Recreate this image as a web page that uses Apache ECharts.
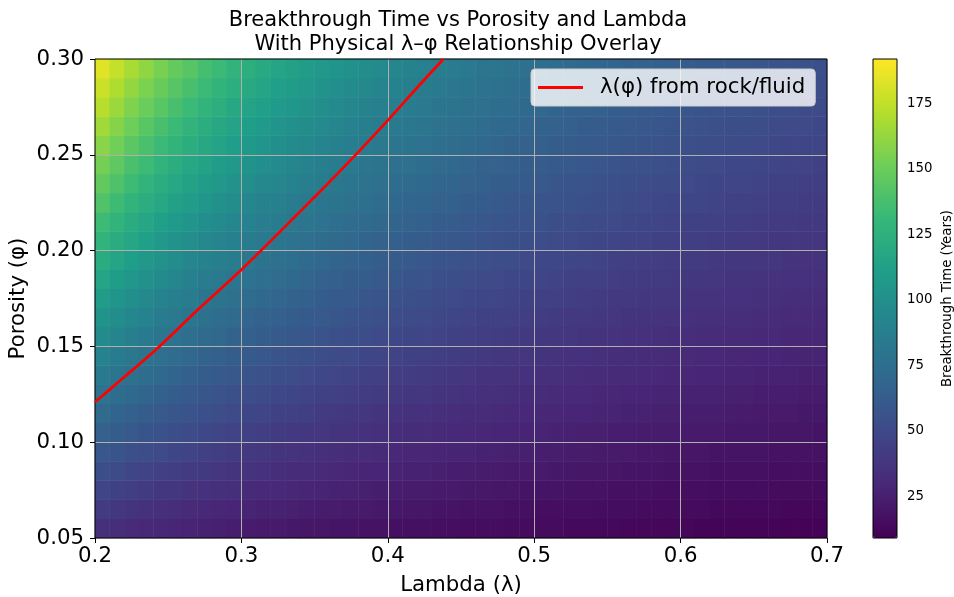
<!DOCTYPE html>
<html>
<head>
<meta charset="utf-8">
<title>Breakthrough Time vs Porosity and Lambda</title>
<script src="https://cdn.jsdelivr.net/npm/echarts@6/dist/echarts.min.js"></script>
<style>
  html, body { margin: 0; padding: 0; background: #fff; }
  #chart { width: 954px; height: 597px; }
</style>
</head>
<body>
<div id="chart"></div>
<script>
// heatmap cell centres
var lambdaCells = ['0.205','0.215','0.225','0.235','0.245','0.255','0.265','0.275','0.285','0.295',
                   '0.305','0.315','0.325','0.335','0.345','0.355','0.365','0.375','0.385','0.395',
                   '0.405','0.415','0.425','0.435','0.445','0.455','0.465','0.475','0.485','0.495',
                   '0.505','0.515','0.525','0.535','0.545','0.555','0.565','0.575','0.585','0.595',
                   '0.605','0.615','0.625','0.635','0.645','0.655','0.665','0.675','0.685','0.695'];
var phiCells = ['0.055','0.065','0.075','0.085','0.095','0.105','0.115','0.125','0.135','0.145','0.155','0.165','0.175',
                '0.185','0.195','0.205','0.215','0.225','0.235','0.245','0.255','0.265','0.275','0.285','0.295'];

// breakthrough time (years), one row per porosity cell, bottom row first
var btRows = [
  [34,33,31,30,29,28,27,26,25,24, 23,22,22,21,20,20,19,19,18,18, 17,17,17,16,16,15,15,15,14,14, 14,14,13,13,13,13,12,12,12,12, 12,11,11,11,11,11,11,10,10,10],
  [41,39,37,35,34,33,31,30,29,28, 27,26,26,25,24,23,23,22,22,21, 21,20,20,19,19,18,18,18,17,17, 16,16,16,16,15,15,15,14,14,14, 14,14,13,13,13,13,13,12,12,12],
  [47,45,43,41,39,38,36,35,34,33, 31,30,30,29,28,27,26,26,25,24, 24,23,23,22,22,21,21,20,20,19, 19,19,18,18,18,17,17,17,16,16, 16,16,15,15,15,15,14,14,14,14],
  [53,51,48,46,44,43,41,40,38,37, 36,35,33,32,32,31,30,29,28,28, 27,26,26,25,24,24,23,23,22,22, 22,21,21,20,20,20,19,19,19,18, 18,18,17,17,17,17,16,16,16,16],
  [59,57,54,52,50,48,46,44,43,41, 40,39,37,36,35,34,33,32,32,31, 30,29,29,28,27,27,26,26,25,25, 24,24,23,23,22,22,22,21,21,20, 20,20,19,19,19,19,18,18,18,18],
  [66,63,60,57,55,53,51,49,47,46, 44,43,41,40,39,38,37,36,35,34, 33,32,32,31,30,30,29,28,28,27, 27,26,26,25,25,24,24,23,23,23, 22,22,22,21,21,21,20,20,20,19],
  [72,68,65,63,60,58,56,54,52,50, 48,47,45,44,43,41,40,39,38,37, 36,35,35,34,33,32,32,31,30,30, 29,29,28,28,27,27,26,26,25,25, 24,24,24,23,23,22,22,22,21,21],
  [78,74,71,68,65,63,60,58,56,54, 52,51,49,48,46,45,44,43,42,41, 40,39,38,37,36,35,34,34,33,32, 32,31,30,30,29,29,28,28,27,27, 26,26,26,25,25,24,24,24,23,23],
  [84,80,77,74,71,68,65,63,61,59, 57,55,53,52,50,49,47,46,45,44, 43,42,41,40,39,38,37,36,36,35, 34,34,33,32,32,31,31,30,30,29, 29,28,28,27,27,26,26,26,25,25],
  [91,86,82,79,76,73,70,67,65,63, 61,59,57,55,54,52,51,50,48,47, 46,45,44,43,42,41,40,39,38,38, 37,36,35,35,34,33,33,32,32,31, 31,30,30,29,29,28,28,27,27,27],
  [97,92,88,84,81,78,75,72,70,67, 65,63,61,59,58,56,54,53,52,50, 49,48,47,46,45,44,43,42,41,40, 39,39,38,37,36,36,35,35,34,33, 33,32,32,31,31,30,30,29,29,29],
  [103,98,94,90,86,83,80,77,74,72, 69,67,65,63,61,60,58,56,55,54, 52,51,50,49,48,46,45,45,44,43, 42,41,40,40,39,38,37,37,36,36, 35,34,34,33,33,32,32,31,31,30],
  [109,104,100,95,91,88,85,81,79,76, 73,71,69,67,65,63,61,60,58,57, 55,54,53,51,50,49,48,47,46,45, 44,44,43,42,41,40,40,39,38,38, 37,36,36,35,35,34,34,33,33,32],
  [116,110,105,101,97,93,89,86,83,80, 78,75,73,71,69,67,65,63,62,60, 59,57,56,54,53,52,51,50,49,48, 47,46,45,44,44,43,42,41,41,40, 39,39,38,37,37,36,36,35,35,34],
  [122,116,111,106,102,98,94,91,88,85, 82,79,77,75,72,70,68,67,65,63, 62,60,59,57,56,55,54,53,52,50, 49,49,48,47,46,45,44,43,43,42, 41,41,40,39,39,38,38,37,36,36],
  [128,122,117,112,107,103,99,95,92,89, 86,83,81,78,76,74,72,70,68,66, 65,63,62,60,59,58,56,55,54,53, 52,51,50,49,48,47,46,46,45,44, 43,43,42,41,41,40,39,39,38,38],
  [134,128,122,117,112,108,104,100,97,93, 90,87,85,82,80,78,75,73,72,70, 68,66,65,63,62,60,59,58,57,56, 55,53,52,51,51,50,49,48,47,46, 45,45,44,43,43,42,41,41,40,40],
  [141,134,128,123,118,113,109,105,101,98, 94,91,89,86,84,81,79,77,75,73, 71,69,68,66,65,63,62,61,59,58, 57,56,55,54,53,52,51,50,49,48, 48,47,46,45,45,44,43,43,42,41],
  [147,140,134,128,123,118,114,109,106,102, 99,95,93,90,87,85,82,80,78,76, 74,72,71,69,68,66,65,63,62,61, 60,58,57,56,55,54,53,52,51,51, 50,49,48,47,47,46,45,45,44,43],
  [153,146,139,134,128,123,118,114,110,106, 103,100,96,94,91,88,86,84,81,79, 77,76,74,72,70,69,67,66,65,63, 62,61,60,59,58,57,55,55,54,53, 52,51,50,49,49,48,47,46,46,45],
  [159,152,145,139,133,128,123,119,115,111, 107,104,100,97,95,92,89,87,85,83, 81,79,77,75,73,72,70,69,67,66, 65,63,62,61,60,59,58,57,56,55, 54,53,52,51,51,50,49,48,48,47],
  [166,158,151,144,138,133,128,123,119,115, 111,108,104,101,98,96,93,90,88,86, 84,82,80,78,76,75,73,71,70,69, 67,66,65,63,62,61,60,59,58,57, 56,55,54,53,53,52,51,50,50,49],
  [172,164,156,150,144,138,133,128,124,119, 115,112,108,105,102,99,96,94,91,89, 87,85,83,81,79,77,76,74,73,71, 70,68,67,66,65,63,62,61,60,59, 58,57,56,55,55,54,53,52,51,51],
  [178,170,162,155,149,143,138,133,128,124, 120,116,112,109,106,103,100,97,95,92, 90,88,86,84,82,80,78,77,75,74, 72,71,69,68,67,66,65,63,62,61, 60,59,58,57,57,56,55,54,53,52],
  [184,176,168,161,154,148,143,137,133,128, 124,120,116,113,109,106,104,101,98,96, 93,91,89,87,85,83,81,80,78,76, 75,73,72,71,69,68,67,66,65,64, 62,61,60,59,59,58,57,56,55,54]
];

// physical lambda-phi curve
var lineLambda = [0.200, 0.220, 0.244, 0.270, 0.300, 0.350, 0.378, 0.400, 0.420, 0.438];
var linePhi    = [0.121, 0.134, 0.150, 0.169, 0.190, 0.228, 0.250, 0.268, 0.285, 0.300];

var cbarTicks = [25, 50, 75, 100, 125, 150, 175];

var viridis = ['#440154','#482878','#3e4989','#31688e','#26828e','#1f9e89','#35b779','#6ece58','#b5de2b','#fde725'];

var heat = [];
for (var i = 0; i < btRows.length; i++) {
  for (var j = 0; j < btRows[i].length; j++) {
    heat.push([j, i, btRows[i][j]]);
  }
}
var lineData = [];
for (var k = 0; k < lineLambda.length; k++) {
  lineData.push([lineLambda[k], linePhi[k]]);
}

var myChart = echarts.init(document.getElementById('chart'));

myChart.setOption({
  animation: false,
  textStyle: { fontFamily: 'DejaVu Sans' },
  title: {
    text: 'Breakthrough Time vs Porosity and Lambda\nWith Physical λ–φ Relationship Overlay',
    left: 453,
    top: 4,
    textAlign: 'center',
    textStyle: { fontSize: 21, fontWeight: 'normal', color: '#000', lineHeight: 24 }
  },
  legend: {
    data: [{ name: 'λ(φ) from rock/fluid', icon: 'rect' }],
    left: 531,
    top: 69,
    z: 8,
    itemWidth: 45,
    itemHeight: 3,
    padding: [8, 10, 8, 7],
    backgroundColor: 'rgba(255,255,255,0.8)',
    borderColor: '#cccccc',
    borderWidth: 1,
    borderRadius: 4,
    textStyle: { fontSize: 21.3, color: '#000', padding: [0, 0, 0, 12] }
  },
  grid: [
    { left: 95, top: 59, width: 732, height: 479, outerBoundsMode: 'none' },
    { left: 95, top: 59, width: 732, height: 479, outerBoundsMode: 'none',
      show: true, borderColor: '#000', borderWidth: 1, backgroundColor: 'transparent', z: 6 },
    { left: 873, top: 59, width: 24, height: 479, outerBoundsMode: 'none',
      show: true, borderColor: '#000', borderWidth: 1, backgroundColor: 'transparent', z: 6 }
  ],
  visualMap: {
    type: 'continuous',
    seriesIndex: 0,
    min: 9,
    max: 192,
    left: 873,
    top: 59,
    itemWidth: 24,
    itemHeight: 479,
    padding: 0,
    calculable: false,
    hoverLink: false,
    inRange: { color: viridis }
  },
  xAxis: [
    { type: 'category', gridIndex: 0, data: lambdaCells, show: false },
    {
      type: 'value', gridIndex: 1, min: 0.2, max: 0.7, interval: 0.1, z: 5,
      axisLine: { show: false },
      axisTick: { show: true, length: 5, lineStyle: { color: '#000' } },
      axisLabel: { fontSize: 21.3, color: '#000', margin: 8, formatter: function (v) { return v.toFixed(1); } },
      splitLine: { show: true, showMinLine: false, showMaxLine: false, lineStyle: { color: '#b0b0b0', width: 1 } },
      name: 'Lambda (λ)', nameLocation: 'middle', nameGap: 37, nameMoveOverlap: false,
      nameTextStyle: { fontSize: 21.3, color: '#000' }
    },
    { type: 'value', gridIndex: 2, show: false, min: 0, max: 1 }
  ],
  yAxis: [
    { type: 'category', gridIndex: 0, data: phiCells, show: false },
    {
      type: 'value', gridIndex: 1, min: 0.05, max: 0.3, interval: 0.05, z: 5,
      axisLine: { show: false },
      axisTick: { show: true, length: 5, lineStyle: { color: '#000' } },
      axisLabel: { fontSize: 21.3, color: '#000', margin: 11, formatter: function (v) { return v.toFixed(2); } },
      splitLine: { show: true, showMinLine: false, showMaxLine: false, lineStyle: { color: '#b0b0b0', width: 1 } },
      name: 'Porosity (φ)', nameLocation: 'middle', nameGap: 66, nameRotate: 90, nameMoveOverlap: false,
      nameTextStyle: { fontSize: 21.3, color: '#000' }
    },
    {
      type: 'value', gridIndex: 2, position: 'right', min: 9, max: 192,
      axisLine: { show: false },
      axisTick: { show: true, customValues: cbarTicks, length: 5, lineStyle: { color: '#000' } },
      axisLabel: { customValues: cbarTicks, fontSize: 13.3, color: '#000', margin: 10 },
      splitLine: { show: false },
      name: 'Breakthrough Time (Years)', nameLocation: 'middle', nameGap: 44, nameRotate: 90, nameMoveOverlap: false,
      nameTextStyle: { fontSize: 13.3, color: '#000' }
    }
  ],
  series: [
    {
      type: 'heatmap',
      xAxisIndex: 0,
      yAxisIndex: 0,
      data: heat,
      z: 2,
      emphasis: { disabled: true }
    },
    {
      name: 'λ(φ) from rock/fluid',
      type: 'line',
      xAxisIndex: 1,
      yAxisIndex: 1,
      data: lineData,
      symbol: 'none',
      smooth: 0.3,
      z: 7,
      lineStyle: { color: '#ff0000', width: 2.67 },
      itemStyle: { color: '#ff0000' }
    }
  ]
});
</script>
</body>
</html>
